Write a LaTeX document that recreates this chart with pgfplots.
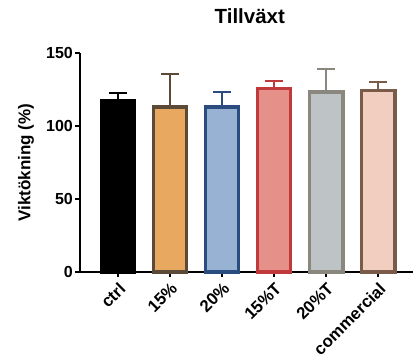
\documentclass[border=0pt]{standalone}
\usepackage{pgfplots}
\pgfplotsset{compat=1.18}
\usepackage{fontspec}
\setmainfont{Liberation Sans}
\definecolor{cOr}{HTML}{E8A860}
\definecolor{bOr}{HTML}{5B4A38}
\definecolor{cBl}{HTML}{98B2D4}
\definecolor{bBl}{HTML}{2B4C7E}
\definecolor{cRd}{HTML}{E6908A}
\definecolor{bRd}{HTML}{C0393B}
\definecolor{cGr}{HTML}{BEC3C6}
\definecolor{bGr}{HTML}{8A877E}
\definecolor{cPk}{HTML}{F2CEC0}
\definecolor{bPk}{HTML}{7A5A48}
\begin{document}
\begin{tikzpicture}
\useasboundingbox (-80bp,-87bp) rectangle (335bp,272bp);
\begin{axis}[
  at={(0,0)}, anchor=south west,
  scale only axis, width=333bp, height=219bp,
  xmin=-0.73, xmax=5.67, ymin=0, ymax=150,
  axis x line=bottom, axis y line=left,
  axis line style={line width=1.4bp, -},
  major tick style={line width=1.4bp, black},
  tick align=outside, major tick length=5bp,
  ytick={0,50,100,150},
  xtick={0,1,2,3,4,5},
  xticklabels={ctrl,15\%,20\%,15\%T,20\%T,commercial},
  /pgf/number format/assume math mode=true,
  yticklabel style={font=\fontsize{16bp}{18bp}\selectfont\bfseries, inner sep=2bp},
  xticklabel style={font=\fontsize{16.8bp}{18bp}\selectfont\bfseries, rotate=45, anchor=north east, inner sep=3bp},
  ylabel={Viktökning (\%)},
  ylabel style={font=\fontsize{17bp}{19bp}\selectfont\bfseries, at={(axis description cs:-0.128,0.5)}, anchor=south},
  title={Tillväxt},
  title style={font=\fontsize{20.5bp}{22bp}\selectfont\bfseries, at={(axis description cs:0.51,1)}, anchor=south, yshift=20bp},
  ybar, bar width=0.64, bar shift=0pt,
  error bars/y dir=plus, error bars/y explicit,
  clip=false,
]
\addplot[fill=black, draw=black, line width=3.5bp,
  error bars/error bar style={line width=1.8bp, black},
  error bars/error mark options={rotate=90, mark size=9bp, line width=1.8bp, black}]
  coordinates {(0,117) +- (0,5.6)};
\addplot[fill=cOr, draw=bOr, line width=3.5bp,
  error bars/error bar style={line width=1.8bp, bOr},
  error bars/error mark options={rotate=90, mark size=9bp, line width=1.8bp, bOr}]
  coordinates {(1,113) +- (0,22.4)};
\addplot[fill=cBl, draw=bBl, line width=3.5bp,
  error bars/error bar style={line width=1.8bp, bBl},
  error bars/error mark options={rotate=90, mark size=9bp, line width=1.8bp, bBl}]
  coordinates {(2,113) +- (0,10.5)};
\addplot[fill=cRd, draw=bRd, line width=3.5bp,
  error bars/error bar style={line width=1.8bp, bRd},
  error bars/error mark options={rotate=90, mark size=9bp, line width=1.8bp, bRd}]
  coordinates {(3,125.8) +- (0,5.2)};
\addplot[fill=cGr, draw=bGr, line width=3.5bp,
  error bars/error bar style={line width=1.8bp, bGr},
  error bars/error mark options={rotate=90, mark size=9bp, line width=1.8bp, bGr}]
  coordinates {(4,123.3) +- (0,15.7)};
\addplot[fill=cPk, draw=bPk, line width=3.5bp,
  error bars/error bar style={line width=1.8bp, bPk},
  error bars/error mark options={rotate=90, mark size=9bp, line width=1.8bp, bPk}]
  coordinates {(5,124.4) +- (0,5.6)};
\end{axis}
\end{tikzpicture}
\end{document}
